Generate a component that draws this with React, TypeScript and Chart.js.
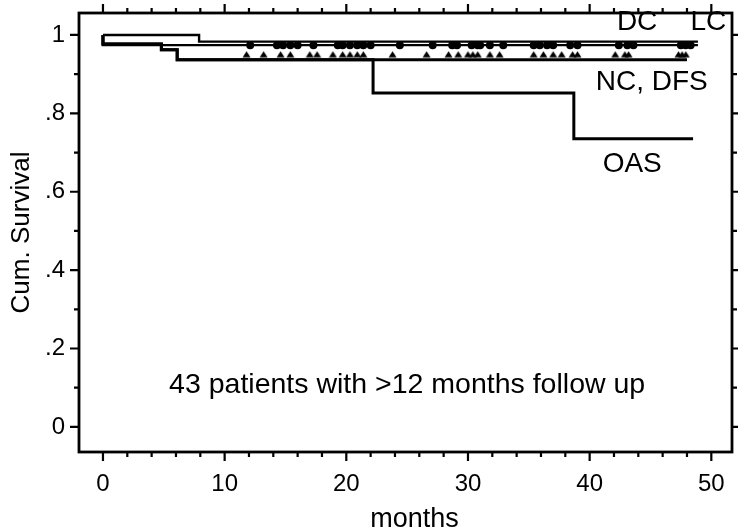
import React, { useEffect, useRef } from "react";
import { Chart, registerables } from "chart.js";

Chart.register(...registerables);

// ---- data ----
const xTitle = "months";
const xTitleAt = 25.6;
const yTitle = "Cum. Survival";
const noteText = "43 patients with >12 months follow up";
const noteX = 25;
const noteY = 0.107;

const xMin = -1.97;
const xMax = 51.7;
const yMin = -0.064;
const yMax = 1.056;

// Kaplan-Meier step curves (time of change, survival after the change)
const dcTimes = [0, 7.9, 48.9];
const dcSurv = [1, 0.983, 0.983];
const lcTimes = [0, 0, 48.9];
const lcSurv = [1, 0.974, 0.974];
const ncTimes = [0, 0, 4.8, 6.1, 48.0];
const ncSurv = [1, 0.977, 0.962, 0.937, 0.937];
const oasTimes = [0, 0, 4.8, 6.1, 22.2, 38.7, 48.5];
const oasSurv = [1, 0.977, 0.962, 0.937, 0.852, 0.735, 0.735];

// censored observations
const lcCensorTimes = [12.1, 14.3, 14.8, 15.4, 16.0, 17.3, 19.3, 19.7, 20.3, 20.9, 21.4, 22.0, 24.4, 27.1, 28.7, 29.1, 30.3, 30.8, 31.0, 31.8, 32.9, 35.4, 35.9, 36.5, 37.0, 38.4, 39.0, 42.4, 43.1, 43.6, 47.5, 47.9, 48.3];
const lcCensorSurv = 0.974;
const ncCensorTimes = [11.8, 13.2, 14.6, 15.4, 17.0, 17.6, 18.9, 19.7, 20.3, 20.9, 21.4, 23.8, 26.6, 28.4, 29.2, 30.0, 30.4, 30.8, 31.8, 32.6, 35.4, 36.2, 37.0, 37.7, 38.6, 39.0, 42.1, 42.9, 43.2, 47.3, 47.6, 47.9];
const ncCensorSurv = 0.937;

const curveLabels = ["DC", "LC", "NC, DFS", "OAS"];
const curveLabelX = [43.9, 49.75, 45.1, 43.5];
const curveLabelY = [1.032, 1.032, 0.879, 0.671];

const FONT = '"Liberation Sans", Arial, sans-serif';

function pts(xs: number[], ys: number[]) {
  return xs.map((x, i) => ({ x, y: ys[i] }));
}

function makeTriangle(): HTMLCanvasElement {
  const c = document.createElement("canvas");
  c.width = 9;
  c.height = 18;
  const g = c.getContext("2d")!;
  g.fillStyle = "#000";
  g.beginPath();
  g.moveTo(4.5, 0.5);
  g.lineTo(8.5, 6.8);
  g.lineTo(0.5, 6.8);
  g.closePath();
  g.fill();
  return c;
}

const framePlugin = {
  id: "framePlugin",
  afterDraw(chart: any) {
    const { ctx, chartArea } = chart;
    const xs = chart.scales.x;
    const ys = chart.scales.y;
    const { left, right, top, bottom } = chartArea;
    ctx.save();
    ctx.strokeStyle = "#000";
    ctx.lineWidth = 2.8;
    ctx.lineCap = "butt";
    ctx.strokeRect(left, top, right - left, bottom - top);
    ctx.lineWidth = 2.2;
    ctx.beginPath();
    for (const t of xs.ticks) {
      const v = t.value;
      const px = xs.getPixelForValue(v);
      const major = Math.round(v) % 10 === 0;
      const len = major ? 9 : 5;
      ctx.moveTo(px, bottom);
      ctx.lineTo(px, bottom + len);
      ctx.moveTo(px, top);
      ctx.lineTo(px, top - len);
    }
    for (const t of ys.ticks) {
      const v = t.value;
      const py = ys.getPixelForValue(v);
      const major = Math.round(v * 10) % 2 === 0;
      const len = major ? 9 : 5;
      ctx.moveTo(left, py);
      ctx.lineTo(left - len, py);
      ctx.moveTo(right, py);
      ctx.lineTo(right + len, py);
    }
    ctx.stroke();

    ctx.fillStyle = "#000";
    ctx.textAlign = "center";
    ctx.textBaseline = "middle";
    ctx.font = `28px ${FONT}`;
    curveLabels.forEach((lab, i) => {
      ctx.fillText(lab, xs.getPixelForValue(curveLabelX[i]), ys.getPixelForValue(curveLabelY[i]));
    });
    ctx.font = `28.5px ${FONT}`;
    ctx.fillText(noteText, xs.getPixelForValue(noteX), ys.getPixelForValue(noteY));
    ctx.font = `27px ${FONT}`;
    ctx.textBaseline = "alphabetic";
    ctx.fillText(xTitle, xs.getPixelForValue(xTitleAt), 527);
    ctx.restore();
  },
};

export default function App() {
  const ref = useRef<HTMLCanvasElement>(null);
  useEffect(() => {
    const canvas = ref.current!;
    const curveStyle = {
      borderColor: "#000",
      backgroundColor: "#000",
      borderWidth: 2.4,
      pointRadius: 0,
      stepped: "before" as const,
      fill: false,
      borderJoinStyle: "miter" as const,
      borderCapStyle: "butt" as const,
    };
    const tri = makeTriangle();
    const chart = new Chart(canvas, {
      type: "line",
      data: {
        datasets: [
          { ...curveStyle, label: "DC", data: pts(dcTimes, dcSurv) },
          { ...curveStyle, label: "LC", data: pts(lcTimes, lcSurv) },
          { ...curveStyle, borderWidth: 3, label: "NC, DFS", data: pts(ncTimes, ncSurv) },
          { ...curveStyle, borderWidth: 3, label: "OAS", data: pts(oasTimes, oasSurv) },
          {
            label: "LC censored",
            data: lcCensorTimes.map((x) => ({ x, y: lcCensorSurv })),
            showLine: false,
            pointStyle: "circle",
            pointRadius: 4,
            pointBorderWidth: 0,
            pointBackgroundColor: "#000",
            borderColor: "#000",
          },
          {
            label: "NC censored",
            data: ncCensorTimes.map((x) => ({ x, y: ncCensorSurv })),
            showLine: false,
            pointStyle: tri as any,
            pointRadius: 4,
            pointBorderWidth: 0,
            pointBackgroundColor: "#000",
            borderColor: "#000",
          },
        ],
      },
      options: {
        animation: false,
        responsive: false,
        devicePixelRatio: 1,
        layout: { padding: { left: 0, right: 6, top: 13, bottom: 0 }, autoPadding: false } as any,
        plugins: {
          legend: { display: false },
          tooltip: { enabled: false },
        },
        scales: {
          x: {
            type: "linear",
            min: xMin,
            max: xMax,
            grid: { display: false, drawTicks: false },
            border: { display: false },
            ticks: {
              stepSize: 2,
              includeBounds: false,
              autoSkip: false,
              maxRotation: 0,
              padding: 18,
              color: "#000",
              font: { family: FONT, size: 24 },
              callback: (v: any) => (Math.round(v) % 10 === 0 ? String(Math.round(v)) : ""),
            },
            title: { display: false, text: xTitle },
            afterFit: (s: any) => {
              s.height = 78;
              s.paddingLeft = 0;
              s.paddingRight = 0;
            },
          },
          y: {
            type: "linear",
            min: yMin,
            max: yMax,
            grid: { display: false, drawTicks: false },
            border: { display: false },
            ticks: {
              stepSize: 0.1,
              includeBounds: false,
              autoSkip: false,
              padding: 14,
              color: "#000",
              font: { family: FONT, size: 24 },
              callback: (v: any) => {
                const k = Math.round(v * 10);
                if (k % 2 !== 0) return "";
                if (k === 10) return "1";
                if (k === 0) return "0";
                return "." + k;
              },
            },
            title: {
              display: true,
              text: yTitle,
              color: "#000",
              font: { family: FONT, size: 26 },
              padding: { top: 6, bottom: 0 },
            },
            afterFit: (s: any) => {
              s.width = 79;
              s.paddingTop = 0;
              s.paddingBottom = 0;
            },
          },
        },
      },
      plugins: [framePlugin],
    });
    return () => chart.destroy();
  }, []);
  return (
    <div style={{ position: "fixed", left: 0, top: 0, width: 738, height: 530, background: "#fff" }}>
      <canvas ref={ref} width={738} height={530} style={{ display: "block" }} />
    </div>
  );
}
